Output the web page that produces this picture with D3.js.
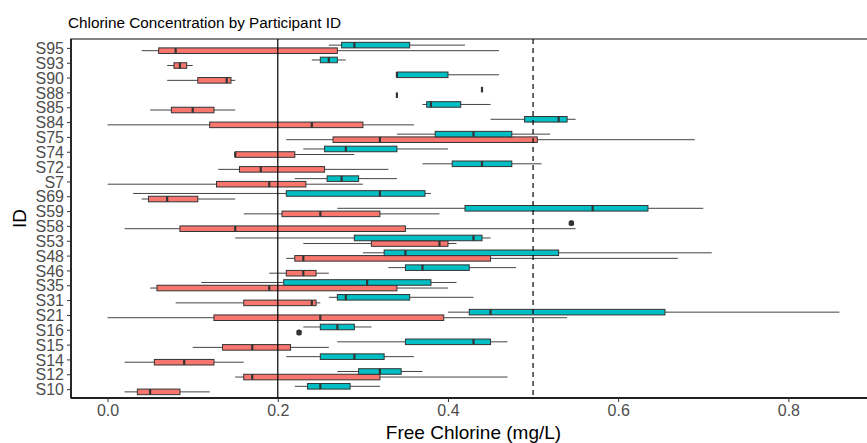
<!DOCTYPE html>
<html>
<head>
<meta charset="utf-8">
<script src="https://cdn.jsdelivr.net/npm/d3@7"></script>
<style>
  body { margin: 0; background: #fff; }
  svg text { font-family: "Liberation Sans", Arial, sans-serif; }
  .axis path { stroke: #000; stroke-width: 1.4px; }
  .axis line { stroke: #333; }
  .axis text { fill: #4d4d4d; font-size: 16px; }
</style>
</head>
<body>
<div id="chart"></div>
<script>
// participant ids, bottom to top
var ids = ["S10","S12","S14","S15","S16","S21","S31","S35","S46","S48","S53","S58",
           "S59","S69","S7","S72","S74","S75","S84","S85","S88","S90","S93","S95"];

// [min, q1, median, q3, max] per id, first group (red)
var redStats = [
  [0.02, 0.035, 0.05, 0.085, 0.12],
  [0.15, 0.16, 0.17, 0.32, 0.47],
  [0.02, 0.055, 0.09, 0.125, 0.16],
  [0.10, 0.135, 0.17, 0.215, 0.26],
  [0.225, 0.225, 0.225, 0.225, 0.225],
  [0.0, 0.125, 0.25, 0.395, 0.54],
  [0.08, 0.16, 0.24, 0.245, 0.25],
  [0.05, 0.058, 0.19, 0.34, 0.40],
  [0.19, 0.21, 0.23, 0.245, 0.26],
  [0.21, 0.22, 0.23, 0.45, 0.67],
  [0.23, 0.31, 0.39, 0.40, 0.41],
  [0.02, 0.085, 0.15, 0.35, 0.55],
  [0.16, 0.205, 0.25, 0.32, 0.39],
  [0.04, 0.048, 0.07, 0.106, 0.15],
  [0.0, 0.128, 0.19, 0.233, 0.30],
  [0.13, 0.155, 0.18, 0.255, 0.33],
  [0.15, 0.15, 0.15, 0.22, 0.29],
  [0.21, 0.265, 0.32, 0.505, 0.69],
  [0.0, 0.12, 0.24, 0.30, 0.36],
  [0.05, 0.075, 0.10, 0.125, 0.15],
  [0.34, 0.34, 0.34, 0.34, 0.34],
  [0.07, 0.106, 0.14, 0.145, 0.15],
  [0.07, 0.078, 0.085, 0.093, 0.10],
  [0.04, 0.06, 0.08, 0.27, 0.46]
];

// second group (teal)
var tealStats = [
  [0.22, 0.235, 0.25, 0.285, 0.32],
  [0.27, 0.295, 0.32, 0.345, 0.37],
  [0.21, 0.25, 0.29, 0.325, 0.36],
  [0.27, 0.35, 0.43, 0.45, 0.47],
  [0.23, 0.25, 0.27, 0.29, 0.31],
  [0.40, 0.425, 0.45, 0.655, 0.86],
  [0.26, 0.27, 0.28, 0.355, 0.43],
  [0.11, 0.207, 0.305, 0.38, 0.41],
  [0.33, 0.35, 0.37, 0.425, 0.48],
  [0.30, 0.325, 0.35, 0.53, 0.71],
  [0.15, 0.29, 0.43, 0.44, 0.45],
  [0.545, 0.545, 0.545, 0.545, 0.545],
  [0.27, 0.42, 0.57, 0.635, 0.70],
  [0.03, 0.21, 0.32, 0.373, 0.38],
  [0.22, 0.258, 0.275, 0.295, 0.34],
  [0.37, 0.405, 0.44, 0.475, 0.51],
  [0.23, 0.255, 0.28, 0.34, 0.40],
  [0.34, 0.385, 0.43, 0.475, 0.52],
  [0.45, 0.49, 0.53, 0.54, 0.55],
  [0.37, 0.375, 0.38, 0.415, 0.45],
  [0.44, 0.44, 0.44, 0.44, 0.44],
  [0.34, 0.34, 0.34, 0.40, 0.46],
  [0.24, 0.25, 0.26, 0.27, 0.28],
  [0.26, 0.275, 0.29, 0.355, 0.42]
];

// outlier points [id, value]
var redOutliers = [["S16", 0.225]];
var tealOutliers = [["S58", 0.545]];

var xTicks = [0.0, 0.2, 0.4, 0.6, 0.8];
var refSolid = 0.2;
var refDashed = 0.5;

var width = 867, height = 443;
var margin = {top: 39, left: 71, bottom: 45};
var innerBottom = height - margin.bottom;
var panelW = 805;

var svg = d3.select("#chart").append("svg")
            .attr("width", width)
            .attr("height", height);

var xScale = d3.scaleLinear()
               .domain([-0.043, 0.903])
               .range([margin.left, margin.left + panelW]);

var yScale = d3.scalePoint()
               .domain(ids)
               .range([innerBottom, margin.top])
               .padding(0.6);

var step = yScale.step();
var boxH = step * 0.375;
var off = step * 0.1875;

// panel border
svg.append("rect")
   .attr("x", margin.left)
   .attr("y", margin.top)
   .attr("width", panelW)
   .attr("height", innerBottom - margin.top)
   .attr("fill", "none")
   .attr("stroke", "#333")
   .attr("stroke-width", 1.2);

function drawGroup(stats, fill, dy, cls){
	var rows = ids.map(function(id, i){ return {id: id, s: stats[i]}; });
	var g = svg.append("g").attr("class", cls);

	var item = g.selectAll("g")
	            .data(rows)
	            .enter()
	            .append("g")
	            .attr("transform", function(d){
	            	return "translate(0," + (yScale(d.id) + dy) + ")";
	            });

	// whiskers
	item.append("line")
	    .attr("x1", function(d){ return xScale(d.s[0]); })
	    .attr("x2", function(d){ return xScale(d.s[1]); })
	    .attr("stroke", "#444").attr("stroke-width", 1);
	item.append("line")
	    .attr("x1", function(d){ return xScale(d.s[3]); })
	    .attr("x2", function(d){ return xScale(d.s[4]); })
	    .attr("stroke", "#444").attr("stroke-width", 1);

	item.append("rect")
	    .attr("x", function(d){ return xScale(d.s[1]); })
	    .attr("y", -boxH / 2)
	    .attr("width", function(d){ return xScale(d.s[3]) - xScale(d.s[1]); })
	    .attr("height", boxH)
	    .attr("fill", fill)
	    .attr("stroke", "#333")
	    .attr("stroke-width", 1);

	item.append("line")
	    .attr("x1", function(d){ return xScale(d.s[2]); })
	    .attr("x2", function(d){ return xScale(d.s[2]); })
	    .attr("y1", -boxH / 2)
	    .attr("y2", boxH / 2)
	    .attr("stroke", "#333")
	    .attr("stroke-width", 2.2);
}

function drawOutliers(list, dy){
	svg.append("g").selectAll("rect")
	   .data(list)
	   .enter()
	   .append("rect")
	   .attr("x", function(d){ return xScale(d[1]) - 2.7; })
	   .attr("y", function(d){ return yScale(d[0]) + dy - 2.7; })
	   .attr("width", 5.4)
	   .attr("height", 5.4)
	   .attr("rx", 1.5)
	   .attr("fill", "#333");
}

drawGroup(redStats, "#F8766D", off, "red_boxes");
drawGroup(tealStats, "#00BFC4", -off, "teal_boxes");
drawOutliers(redOutliers, off);
drawOutliers(tealOutliers, -off);

// reference lines
svg.append("line")
   .attr("x1", xScale(refSolid)).attr("x2", xScale(refSolid))
   .attr("y1", margin.top).attr("y2", innerBottom)
   .attr("stroke", "#000").attr("stroke-width", 1.2);

svg.append("line")
   .attr("x1", xScale(refDashed)).attr("x2", xScale(refDashed))
   .attr("y1", margin.top).attr("y2", innerBottom)
   .attr("stroke", "#000").attr("stroke-width", 1.2)
   .attr("stroke-dasharray", "5,4");

// axes
var axisX = d3.axisBottom(xScale)
              .tickValues(xTicks)
              .tickSize(4)
              .tickPadding(3)
              .tickFormat(d3.format(".1f"));

svg.append("g")
   .attr("class", "axis")
   .attr("transform", "translate(0," + innerBottom + ")")
   .call(axisX)
   .call(function(g){ g.select(".domain").attr("d", "M" + margin.left + ",0H" + width); });

var axisY = d3.axisLeft(yScale)
              .tickSize(4)
              .tickPadding(3);

svg.append("g")
   .attr("class", "axis")
   .attr("transform", "translate(" + margin.left + ",0)")
   .call(axisY)
   .call(function(g){
   	g.select(".domain").attr("d", "M0," + margin.top + "V" + innerBottom);
   	g.selectAll("text").attr("dy", "0.35em");
   });

// titles
svg.append("text")
   .attr("x", 68)
   .attr("y", 28)
   .attr("font-size", "15.3px")
   .attr("fill", "#000")
   .text("Chlorine Concentration by Participant ID");

svg.append("text")
   .attr("x", (margin.left + margin.left + panelW) / 2)
   .attr("y", 439)
   .attr("text-anchor", "middle")
   .attr("font-size", "19px")
   .attr("fill", "#000")
   .text("Free Chlorine (mg/L)");

svg.append("text")
   .attr("transform", "translate(26," + ((margin.top + innerBottom) / 2) + ") rotate(-90)")
   .attr("text-anchor", "middle")
   .attr("font-size", "19px")
   .attr("fill", "#000")
   .text("ID");
</script>
</body>
</html>
